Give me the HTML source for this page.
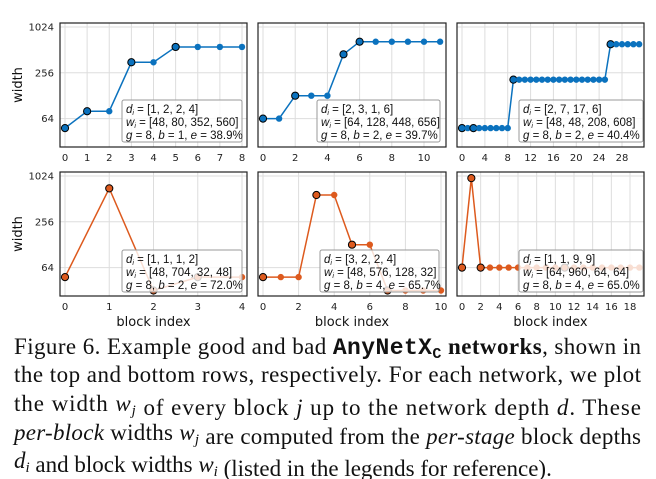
<!DOCTYPE html>
<html><head><meta charset="utf-8"><style>
html,body{margin:0;padding:0;background:#fff;width:656px;height:479px;overflow:hidden}
svg{display:block}
</style></head><body>
<svg id="s" width="656" height="479" xmlns="http://www.w3.org/2000/svg" font-family="'DejaVu Sans', sans-serif">
</svg>
<script>
const S=document.getElementById('s');
let h='';
const BLUE='#0b72be', OR='#dd5a1e';
function expand(d,w){let r=[],st=[];d.forEach((n,k)=>{st.push(r.length);for(let j=0;j<n;j++)r.push(w[k]);});return [r,st];}
function panel(o){
 const {x0,x1,y0,y1,top,sx0,sx1,xmin,xmax,ticks,d,w,col,leg,lx0,lx1,ly0,ylab,xlab}=o;
 const X=v=>sx0+(v-xmin)*(sx1-sx0)/(xmax-xmin);
 const Y=v=>top-(Math.log2(v)-10)*22.9;
 h+=`<g>`;
 ticks.forEach(t=>{h+=`<line x1="${X(t)}" x2="${X(t)}" y1="${y0}" y2="${y1}" stroke="#ddd" stroke-width="1"/>`;
   h+=`<text x="${X(t)}" y="${y1+14}" font-size="10" text-anchor="middle" fill="#222">${t}</text>`;});
 [64,256,1024].forEach(v=>{h+=`<line x1="${x0}" x2="${x1}" y1="${Y(v)}" y2="${Y(v)}" stroke="#ddd"/>`;
   if(ylab) h+=`<text x="${x0-6}" y="${Y(v)+3.5}" font-size="10" text-anchor="end" fill="#222">${v}</text>`;});
 const [r,st]=expand(d,w);
 let pts=r.map((v,i)=>`${X(i)},${Y(v)}`).join(' ');
 h+=`<polyline points="${pts}" fill="none" stroke="${col}" stroke-width="1.5"/>`;
 r.forEach((v,i)=>{ if(st.includes(i)) h+=`<circle cx="${X(i)}" cy="${Y(v)}" r="3.6" fill="${col}" stroke="#000" stroke-width="1"/>`;
   else h+=`<circle cx="${X(i)}" cy="${Y(v)}" r="3.2" fill="${col}"/>`;});
 h+=`<rect x="${lx0}" y="${ly0}" width="${lx1-lx0}" height="42" rx="2" fill="#fff" fill-opacity="0.8" stroke="#999" stroke-width="1"/>`;
 const tx=lx0+4, LF=`font-family="'Liberation Sans',sans-serif" font-size="11.5" fill="#111"`;
 h+=`<text x="${tx}" y="${ly0+13}" ${LF}><tspan font-style="italic">d</tspan><tspan font-style="italic" font-size="7" dy="2">i</tspan><tspan dy="-2"> = [${d.join(', ')}]</tspan></text>`;
 h+=`<text x="${tx}" y="${ly0+26}" ${LF}><tspan font-style="italic">w</tspan><tspan font-style="italic" font-size="7" dy="2">i</tspan><tspan dy="-2"> = [${w.join(', ')}]</tspan></text>`;
 h+=`<text x="${tx}" y="${ly0+39}" ${LF}>${leg}</text>`;
 h+=`<rect x="${x0}" y="${y0}" width="${x1-x0}" height="${y1-y0}" fill="none" stroke="#222" stroke-width="1.2"/>`;
 if(ylab) h+=`<text transform="translate(${x0-38},${(y0+y1)/2}) rotate(-90)" font-size="13" text-anchor="middle" fill="#111">width</text>`;
 if(xlab) h+=`<text x="${(x0+x1)/2}" y="${y1+30}" font-size="13" text-anchor="middle" fill="#111">block index</text>`;
 h+=`</g>`;
}
const gl=(g,b,e)=>`<tspan font-style="italic">g</tspan> = ${g}, <tspan font-style="italic">b</tspan> = ${b}, <tspan font-style="italic">e</tspan> = ${e}%`;
panel({x0:60,x1:247,y0:23,y1:147,top:27,sx0:65,sx1:242,xmin:0,xmax:8,ticks:[0,1,2,3,4,5,6,7,8],d:[1,2,2,4],w:[48,80,352,560],col:BLUE,leg:gl(8,1,'38.9'),lx0:122,lx1:242,ly0:100,ylab:1});
panel({x0:258,x1:446,y0:23,y1:147,top:27,sx0:263,sx1:424,xmin:0,xmax:10,ticks:[0,2,4,6,8,10],d:[2,3,1,6],w:[64,128,448,656],col:BLUE,leg:gl(8,2,'39.7'),lx0:317,lx1:440,ly0:100});
panel({x0:457,x1:644,y0:23,y1:147,top:27,sx0:462,sx1:622,xmin:0,xmax:28,ticks:[0,4,8,12,16,20,24,28],d:[2,7,17,6],w:[48,48,208,608],col:BLUE,leg:gl(8,2,'40.4'),lx0:519,lx1:643,ly0:100});
panel({x0:60,x1:247,y0:172,y1:296,top:176,sx0:65,sx1:242,xmin:0,xmax:4,ticks:[0,1,2,3,4],d:[1,1,1,2],w:[48,704,32,48],col:OR,leg:gl(8,2,'72.0'),lx0:122,lx1:242,ly0:250,ylab:1,xlab:1});
panel({x0:258,x1:446,y0:172,y1:296,top:176,sx0:263,sx1:441,xmin:0,xmax:10,ticks:[0,2,4,6,8,10],d:[3,2,2,4],w:[48,576,128,32],col:OR,leg:gl(8,4,'65.7'),lx0:320,lx1:439,ly0:250,xlab:1});
panel({x0:457,x1:644,y0:172,y1:296,top:176,sx0:462,sx1:630,xmin:0,xmax:18,ticks:[0,2,4,6,8,10,12,14,16,18],d:[1,1,9,9],w:[64,960,64,64],col:OR,leg:gl(8,4,'65.0'),lx0:519,lx1:643,ly0:250,xlab:1});
const F=`font-family="'Liberation Serif',serif" font-size="23" fill="#111"`;
const iv=(c,s)=>`<tspan font-style="italic">${c}</tspan><tspan font-style="italic" font-size="15" dy="4">${s}</tspan><tspan dy="-4"></tspan>`;
h+=`<text x="14" y="354" ${F} textLength="627" lengthAdjust="spacing">Figure 6. Example good and bad <tspan font-family="'Liberation Mono',monospace" font-weight="bold">AnyNetX</tspan><tspan font-family="'Liberation Mono',monospace" font-weight="bold" font-size="15" dy="4">C</tspan><tspan dy="-4" font-weight="bold"> networks</tspan>, shown in</text>`;
h+=`<text x="14" y="382" ${F} textLength="627" lengthAdjust="spacing">the top and bottom rows, respectively. For each network, we plot</text>`;
h+=`<text x="14" y="411" ${F} textLength="627" lengthAdjust="spacing">the width ${iv('w','j')} of every block <tspan font-style="italic">j</tspan> up to the network depth <tspan font-style="italic">d</tspan>. These</text>`;
h+=`<text x="14" y="440" ${F} textLength="627" lengthAdjust="spacing"><tspan font-style="italic">per-block</tspan> widths ${iv('w','j')} are computed from the <tspan font-style="italic">per-stage</tspan> block depths</text>`;
h+=`<text x="14" y="468" ${F}>${iv('d','i')} and block widths ${iv('w','i')} (listed in the legends for reference).</text>`;
S.innerHTML=h;
</script>
</body></html>
